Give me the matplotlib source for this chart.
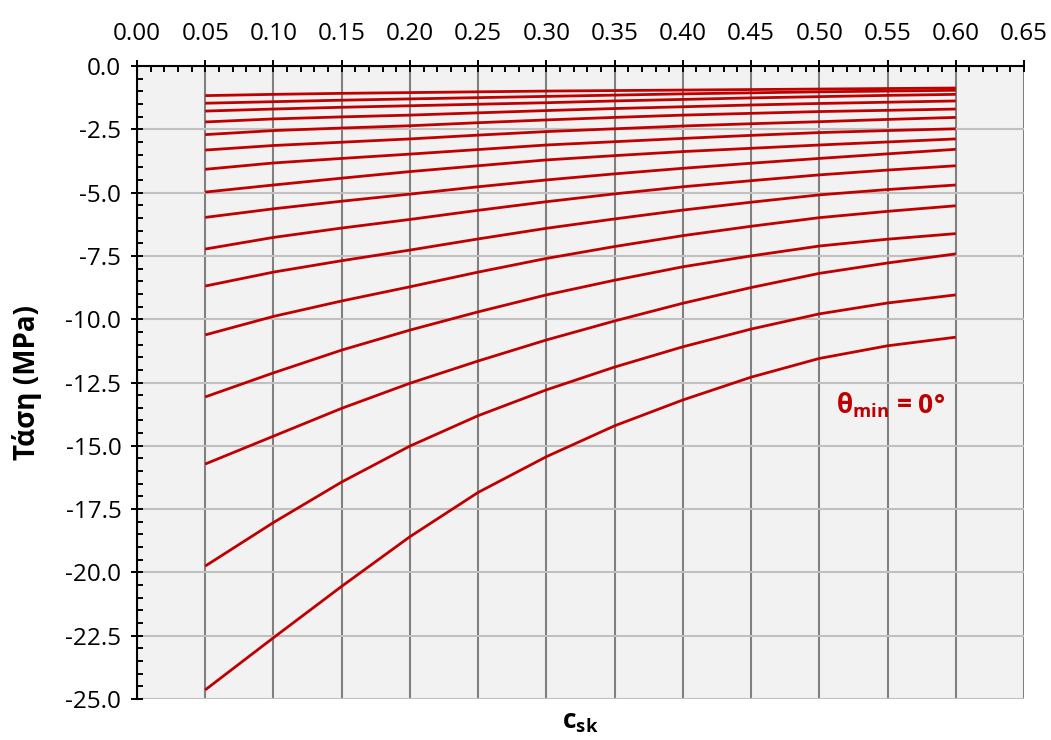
import matplotlib
matplotlib.use("Agg")
import matplotlib.pyplot as plt
from matplotlib.ticker import MultipleLocator, FormatStrFormatter

plt.rcParams['font.family'] = ['Open Sans', 'DejaVu Sans']
plt.rcParams['axes.unicode_minus'] = False
plt.rcParams['mathtext.fontset'] = 'custom'
plt.rcParams['mathtext.rm'] = 'Open Sans'
plt.rcParams['mathtext.bf'] = 'Open Sans:bold'
plt.rcParams['mathtext.it'] = 'Open Sans:italic'

# c_sk values
c_sk = [0.05, 0.10, 0.15, 0.20, 0.25, 0.30, 0.35, 0.40, 0.45, 0.50, 0.55, 0.60]

# stress curves (MPa), one per line
s01 = [-1.17, -1.12, -1.08, -1.05, -1.02, -0.99, -0.97, -0.95, -0.93, -0.91, -0.89, -0.87]
s02 = [-1.47, -1.41, -1.35, -1.30, -1.25, -1.20, -1.15, -1.10, -1.06, -1.02, -0.99, -0.96]
s03 = [-1.78, -1.70, -1.63, -1.57, -1.51, -1.45, -1.38, -1.32, -1.26, -1.21, -1.16, -1.12]
s04 = [-2.21, -2.09, -2.01, -1.94, -1.85, -1.76, -1.68, -1.61, -1.54, -1.48, -1.43, -1.38]
s05 = [-2.71, -2.55, -2.45, -2.36, -2.24, -2.13, -2.03, -1.94, -1.87, -1.80, -1.75, -1.70]
s06 = [-3.32, -3.14, -3.01, -2.88, -2.73, -2.59, -2.48, -2.37, -2.28, -2.20, -2.11, -2.03]
s07 = [-4.08, -3.83, -3.65, -3.48, -3.30, -3.12, -2.99, -2.86, -2.74, -2.63, -2.55, -2.48]
s08 = [-4.98, -4.70, -4.43, -4.17, -3.94, -3.71, -3.54, -3.38, -3.25, -3.12, -3.00, -2.88]
s09 = [-5.98, -5.64, -5.34, -5.06, -4.77, -4.50, -4.26, -4.04, -3.84, -3.65, -3.47, -3.29]
s10 = [-7.23, -6.77, -6.40, -6.06, -5.70, -5.36, -5.05, -4.77, -4.53, -4.30, -4.11, -3.94]
s11 = [-8.69, -8.14, -7.69, -7.27, -6.83, -6.41, -6.04, -5.69, -5.38, -5.09, -4.88, -4.70]
s12 = [-10.62, -9.89, -9.28, -8.72, -8.14, -7.60, -7.13, -6.70, -6.33, -5.99, -5.74, -5.52]
s13 = [-13.07, -12.12, -11.22, -10.43, -9.71, -9.04, -8.46, -7.93, -7.50, -7.11, -6.84, -6.62]
s14 = [-15.72, -14.62, -13.52, -12.53, -11.65, -10.82, -10.07, -9.37, -8.75, -8.19, -7.78, -7.42]
s15 = [-19.75, -18.03, -16.43, -15.01, -13.81, -12.79, -11.89, -11.09, -10.39, -9.79, -9.36, -9.04]
s16 = [-24.64, -22.58, -20.55, -18.59, -16.84, -15.43, -14.21, -13.19, -12.29, -11.55, -11.05, -10.71]

series = [s01, s02, s03, s04, s05, s06, s07, s08, s09, s10, s11, s12, s13, s14, s15, s16]

RED = '#C00000'

fig = plt.figure(figsize=(10.51, 7.40), dpi=100)
ax = fig.add_axes([137/1051, 1 - 699/740, (1024 - 137)/1051, (699 - 66)/740])
ax.set_facecolor('#f2f2f2')

for s in series:
    ax.plot(c_sk, s, color=RED, lw=2.0, solid_capstyle='butt',
            solid_joinstyle='round', zorder=3)

ax.set_xlim(0, 0.65)
ax.set_ylim(-25, 0)

ax.xaxis.set_major_locator(MultipleLocator(0.05))
ax.xaxis.set_minor_locator(MultipleLocator(0.01))
ax.yaxis.set_major_locator(MultipleLocator(2.5))
ax.yaxis.set_minor_locator(MultipleLocator(0.5))
ax.xaxis.set_major_formatter(FormatStrFormatter('%.2f'))
ax.yaxis.set_major_formatter(FormatStrFormatter('%.1f'))

ax.xaxis.tick_top()
ax.tick_params(axis='x', which='major', direction='inout', length=8.5, width=1.4,
               labelsize=17.5, pad=10, top=True, bottom=False)
ax.tick_params(axis='x', which='minor', direction='in', length=4.5, width=1.4,
               top=True, bottom=False)
ax.tick_params(axis='y', which='major', direction='inout', length=8.5, width=1.4,
               labelsize=17.5, pad=7)
ax.tick_params(axis='y', which='minor', direction='in', length=4.5, width=1.4)

ax.xaxis.grid(True, which='major', color='#808080', lw=1.5, zorder=1)
ax.yaxis.grid(True, which='major', color='#c0c0c0', lw=1.5, zorder=1)
ax.set_axisbelow(True)

ax.spines['top'].set_linewidth(1.5)
ax.spines['left'].set_linewidth(1.5)
ax.spines['right'].set_visible(False)
ax.spines['bottom'].set_visible(False)

ax.set_ylabel('Τάση (MPa)', fontsize=20, fontweight='bold')
ax.yaxis.set_label_coords(-0.107, 0.5)

ax.text(0.5, -0.035, r'$\mathbf{c_{sk}}$', transform=ax.transAxes, ha='center',
        va='center', fontsize=19, fontweight='bold')

ax.text(0.512, -13.4, r'$\mathbf{θ_{min}}$ = 0°', color=RED, fontsize=19,
        fontweight='bold', ha='left', va='center')

fig.savefig('out.png', dpi=100)
